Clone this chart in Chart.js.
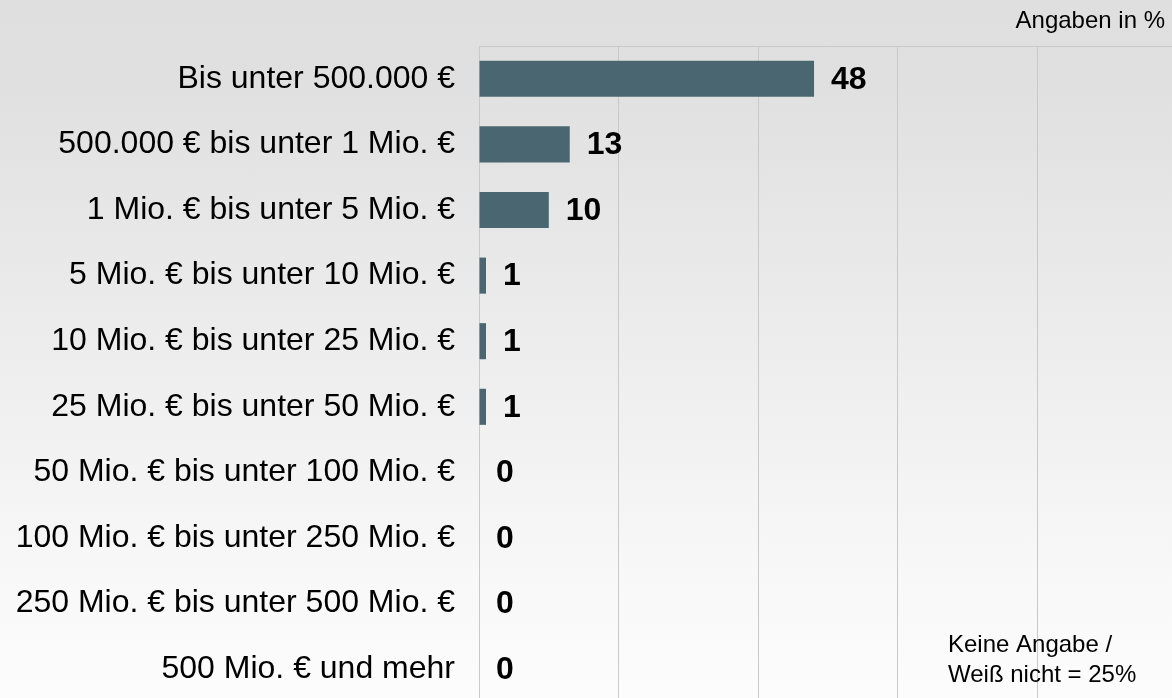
<!DOCTYPE html>
<html lang="de">
<head>
<meta charset="utf-8">
<title>Umsatzklassen</title>
<script src="https://cdn.jsdelivr.net/npm/chart.js@4.4.1/dist/chart.umd.min.js"></script>
<style>
    html, body {
        margin: 0;
        padding: 0;
        width: 1172px;
        height: 698px;
        overflow: hidden;
        background: linear-gradient(to bottom, #dfdfdf 0%, #e0e0e0 12%, #f8f8f8 82%, #fcfcfc 100%);
    }
    #wrap {
        position: absolute;
        left: 0;
        top: 0;
    }
</style>
</head>
<body>
<div id="wrap">
    <canvas id="grafico" width="1178" height="702"></canvas>
</div>
<script>
const categorias = [
    'Bis unter 500.000 €',
    '500.000 € bis unter 1 Mio. €',
    '1 Mio. € bis unter 5 Mio. €',
    '5 Mio. € bis unter 10 Mio. €',
    '10 Mio. € bis unter 25 Mio. €',
    '25 Mio. € bis unter 50 Mio. €',
    '50 Mio. € bis unter 100 Mio. €',
    '100 Mio. € bis unter 250 Mio. €',
    '250 Mio. € bis unter 500 Mio. €',
    '500 Mio. € und mehr'
];
const valores = [48, 13, 10, 1, 1, 1, 0, 0, 0, 0];
const escalaX = [0, 20, 40, 60, 80, 100];
const notaTopo = 'Angaben in %';
const notaRodape = ['Keine Angabe /', 'Weiß nicht = 25%'];

const fonte = "'Liberation Sans', Arial, Helvetica, sans-serif";
const corBarra = '#4a6771';
const corGrade = '#c9c9c9';

// rótulos de valor ao lado das barras
const rotulosValor = {
    id: 'rotulosValor',
    afterDatasetsDraw(chart) {
        const ctx = chart.ctx;
        const meta = chart.getDatasetMeta(0);
        ctx.save();
        ctx.font = 'bold 32px ' + fonte;
        ctx.fillStyle = '#000';
        ctx.textAlign = 'left';
        ctx.textBaseline = 'middle';
        meta.data.forEach((bar, i) => {
            ctx.fillText(String(valores[i]), bar.x + 17, bar.y + 1);
        });
        ctx.restore();
    }
};

// textos de nota (topo e rodapé)
const notas = {
    id: 'notas',
    afterDraw(chart) {
        const ctx = chart.ctx;
        ctx.save();
        ctx.font = '24px ' + fonte;
        ctx.fillStyle = '#000';
        ctx.textBaseline = 'middle';
        ctx.textAlign = 'right';
        ctx.fillText(notaTopo, 1165, 21);
        ctx.textAlign = 'left';
        ctx.fillText(notaRodape[0], 948, 645);
        ctx.fillText(notaRodape[1], 948, 675);
        ctx.restore();
    }
};

const ctx = document.getElementById('grafico').getContext('2d');

new Chart(ctx, {
    type: 'bar',
    data: {
        labels: categorias,
        datasets: [{
            data: valores,
            backgroundColor: corBarra,
            borderWidth: 0,
            barPercentage: 0.55,
            categoryPercentage: 1
        }]
    },
    options: {
        indexAxis: 'y',
        responsive: false,
        animation: false,
        layout: {
            padding: { top: 46, right: 1, bottom: 0, left: 0 }
        },
        plugins: {
            legend: { display: false },
            tooltip: { enabled: false }
        },
        scales: {
            x: {
                position: 'top',
                min: escalaX[0],
                max: escalaX[escalaX.length - 1],
                afterBuildTicks: (scale) => {
                    scale.ticks = escalaX.map(v => ({ value: v }));
                },
                afterFit: (scale) => { scale.height = 0; },
                ticks: { display: false },
                grid: {
                    color: corGrade,
                    lineWidth: 1,
                    drawTicks: false
                },
                border: { display: true, color: corGrade, width: 1 }
            },
            y: {
                afterFit: (scale) => {
                    scale.width = 479;
                    scale.paddingTop = 0;
                    scale.paddingBottom = 0;
                },
                ticks: {
                    autoSkip: false,
                    color: '#000',
                    padding: 24,
                    font: { family: fonte, size: 32 }
                },
                grid: { display: false, drawTicks: false },
                border: { display: true, color: corGrade, width: 1 }
            }
        }
    },
    plugins: [rotulosValor, notas]
});
</script>
</body>
</html>
